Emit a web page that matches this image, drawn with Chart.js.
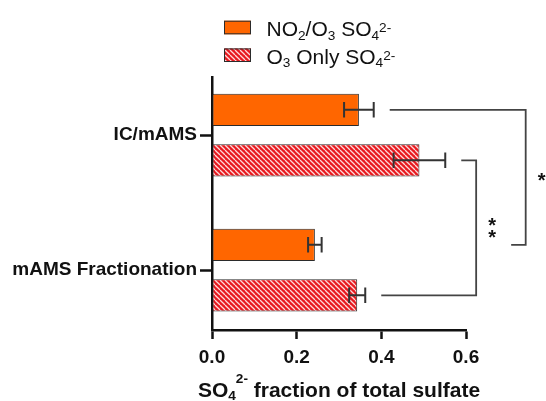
<!DOCTYPE html>
<html>
<head>
<meta charset="utf-8">
<script src="https://cdn.jsdelivr.net/npm/chart.js@4/dist/chart.umd.min.js"></script>
<style>
  html, body { margin: 0; padding: 0; background: #fff; }
</style>
</head>
<body>
<canvas id="sulfateChart" width="546" height="401"></canvas>
<script>
// values
const categories = ['IC/mAMS', 'mAMS Fractionation'];
const seriesLabels = ['NO₂/O₃ SO₄²⁻', 'O₃ Only SO₄²⁻'];
const no2o3Values = [0.347, 0.243];
const no2o3Errors = [0.035, 0.016];
const o3OnlyValues = [0.490, 0.343];
const o3OnlyErrors = [0.061, 0.019];
const xTicks = [0, 0.2, 0.4, 0.6];
const xTitle = 'SO₄²⁻ fraction of total sulfate';
// significance brackets: [series, category] of both ends, x of the vertical line (axis units)
const sigLabels = ['*', '**'];
const sigEnds = [[[0, 0], [0, 1]], [[1, 0], [1, 1]]];
const sigLineX = [0.741, 0.624];

const FONT = "'Liberation Sans', Arial, Helvetica, sans-serif";
const INK = '#111';

// red bar with white diagonal stripes
function makeHatch() {
    const c = document.createElement('canvas');
    c.width = 5; c.height = 5;
    const g = c.getContext('2d');
    g.fillStyle = '#e8191f';
    g.fillRect(0, 0, 5, 5);
    g.strokeStyle = 'rgba(255,228,228,0.95)';
    g.lineWidth = 1.3;
    for (const o of [-5, 0, 5]) {
        g.beginPath();
        g.moveTo(o, 0);
        g.lineTo(o + 5, 5);
        g.stroke();
    }
    return g.createPattern(c, 'repeat');
}

// draws text where unicode sub/superscript digits get real offsets
const SUB = '₀₁₂₃₄₅₆₇₈₉', SUP = '⁰¹²³⁴⁵⁶⁷⁸⁹⁺⁻', SUPN = '0123456789+-';
function splitRich(text) {
    const parts = [];
    for (const ch of text) {
        let mode = 0, c = ch;
        if (SUB.includes(ch)) { mode = 1; c = String(SUB.indexOf(ch)); }
        else if (SUP.includes(ch)) { mode = 2; c = SUPN[SUP.indexOf(ch)]; }
        const last = parts[parts.length - 1];
        if (last && last.mode === mode) last.t += c; else parts.push({ t: c, mode });
    }
    return parts;
}
function drawRich(ctx, text, x, y, size, weight, align, subDy, supDy) {
    const parts = splitRich(text);
    const fontOf = m => weight + ' ' + (m ? size * 0.65 : size) + 'px ' + FONT;
    let w = 0;
    parts.forEach(p => { ctx.font = fontOf(p.mode); p.w = ctx.measureText(p.t).width; w += p.w; });
    let cx = align === 'center' ? x - w / 2 : x;
    ctx.textAlign = 'left';
    ctx.textBaseline = 'alphabetic';
    parts.forEach(p => {
        ctx.font = fontOf(p.mode);
        const dy = p.mode === 1 ? size * subDy : p.mode === 2 ? -size * supDy : 0;
        ctx.fillText(p.t, cx, y + dy);
        cx += p.w;
    });
}

function drawStar(ctx, cx, cy) {
    ctx.font = 'bold 20px ' + FONT;
    ctx.textAlign = 'center';
    ctx.textBaseline = 'alphabetic';
    const m = ctx.measureText('*');
    ctx.fillText('*', cx, cy + (m.actualBoundingBoxAscent - m.actualBoundingBoxDescent) / 2);
}

const decor = {
    id: 'decor',
    afterDatasetsDraw(chart) {
        const ctx = chart.ctx, xs = chart.scales.x;
        ctx.save();
        ctx.strokeStyle = '#333';
        ctx.lineWidth = 2;
        chart.data.datasets.forEach((ds, d) => {
            chart.getDatasetMeta(d).data.forEach((bar, i) => {
                const v = ds.data[i].x, e = ds.errors[i];
                const lo = xs.getPixelForValue(v - e), hi = xs.getPixelForValue(v + e);
                const h = bar.height * 0.24;
                ctx.beginPath();
                ctx.moveTo(lo, bar.y); ctx.lineTo(hi, bar.y);
                ctx.moveTo(lo, bar.y - h); ctx.lineTo(lo, bar.y + h);
                ctx.moveTo(hi, bar.y - h); ctx.lineTo(hi, bar.y + h);
                ctx.stroke();
            });
        });
        ctx.restore();
    },
    afterDraw(chart) {
        const ctx = chart.ctx, xs = chart.scales.x, area = chart.chartArea;
        const sets = chart.data.datasets;
        ctx.save();
        // brackets
        ctx.strokeStyle = '#444';
        ctx.lineWidth = 1.8;
        ctx.fillStyle = INK;
        const endOf = (s, c) => {
            const ds = sets[s];
            return xs.getPixelForValue(ds.data[c].x + ds.errors[c]) + 16;
        };
        sigLabels.forEach((lab, k) => {
            const [a, b] = sigEnds[k];
            const ya = chart.getDatasetMeta(a[0]).data[a[1]].y;
            const yb = chart.getDatasetMeta(b[0]).data[b[1]].y;
            const xv = xs.getPixelForValue(sigLineX[k]);
            let xa = endOf(a[0], a[1]), xb = endOf(b[0], b[1]);
            // the long bracket steps round the short one at the bottom
            if (k === 0) xb = xs.getPixelForValue(sigLineX[1]) + 35;
            ctx.beginPath();
            ctx.moveTo(xa, ya); ctx.lineTo(xv, ya); ctx.lineTo(xv, yb); ctx.lineTo(xb, yb);
            ctx.stroke();
            const mid = (ya + yb) / 2;
            for (let n = 0; n < lab.length; n++) {
                drawStar(ctx, xv + 16, mid + (n - (lab.length - 1) / 2) * 11.5);
            }
        });
        // legend
        sets.forEach((ds, d) => {
            const cy = 27.5 + d * 27.7;
            ctx.fillStyle = ds.backgroundColor;
            ctx.fillRect(224, cy - 6.8, 27, 13.6);
            ctx.strokeStyle = '#2b2b2b';
            ctx.lineWidth = 1;
            ctx.strokeRect(224.5, cy - 6.3, 26, 12.6);
            ctx.fillStyle = INK;
            drawRich(ctx, ds.label, 266.5, cy + 8.5, 21, 'normal', 'left', 0.17, 0.2);
        });
        // x axis title
        ctx.fillStyle = INK;
        drawRich(ctx, xTitle, (area.left + area.right) / 2, 397, 21, 'bold', 'center', 0.16, 0.68);
        ctx.restore();
    }
};

const hatch = makeHatch();
const ctx = document.getElementById('sulfateChart').getContext('2d');
const tickFont = { family: FONT, size: 19, weight: 'bold' };

const sulfateChart = new Chart(ctx, {
    type: 'bar',
    data: {
        datasets: [{
            label: seriesLabels[0],
            data: no2o3Values.map((v, i) => ({ x: v, y: i })),
            errors: no2o3Errors,
            backgroundColor: '#ff6600'
        }, {
            label: seriesLabels[1],
            data: o3OnlyValues.map((v, i) => ({ x: v, y: i })),
            errors: o3OnlyErrors,
            backgroundColor: hatch
        }]
    },
    options: {
        responsive: false,
        animation: false,
        indexAxis: 'y',
        datasets: {
            bar: {
                borderColor: '#2b2b2b',
                borderWidth: 1,
                borderSkipped: false,
                categoryPercentage: 0.748,
                barPercentage: 0.64
            }
        },
        layout: { padding: { top: 77, right: 80, left: 0, bottom: 0 } },
        plugins: {
            legend: { display: false },
            title: { display: false }
        },
        scales: {
            x: {
                type: 'linear',
                min: 0,
                max: 0.6,
                afterBuildTicks: s => { s.ticks = xTicks.map(v => ({ value: v })); },
                afterFit: s => { s.height = 71; },
                ticks: { callback: v => v.toFixed(1), font: tickFont, color: INK, padding: 7 },
                grid: { display: true, drawOnChartArea: false, drawTicks: true, tickLength: 9, tickWidth: 2.5, tickColor: INK },
                border: { display: true, width: 2.5, color: INK }
            },
            y: {
                type: 'linear',
                reverse: true,
                offset: false,
                bounds: 'data',
                min: -0.43,
                max: 1.444,
                afterBuildTicks: s => { s.ticks = categories.map((c, i) => ({ value: i })); },
                afterFit: s => { s.width = 212; },
                ticks: { callback: v => categories[v], font: tickFont, color: INK, padding: 3, autoSkip: false },
                grid: { display: true, offset: false, drawOnChartArea: false, drawTicks: true, tickLength: 12, tickWidth: 2.5, tickColor: INK },
                border: { display: true, width: 2.5, color: INK }
            }
        }
    },
    plugins: [decor]
});
</script>
</body>
</html>
